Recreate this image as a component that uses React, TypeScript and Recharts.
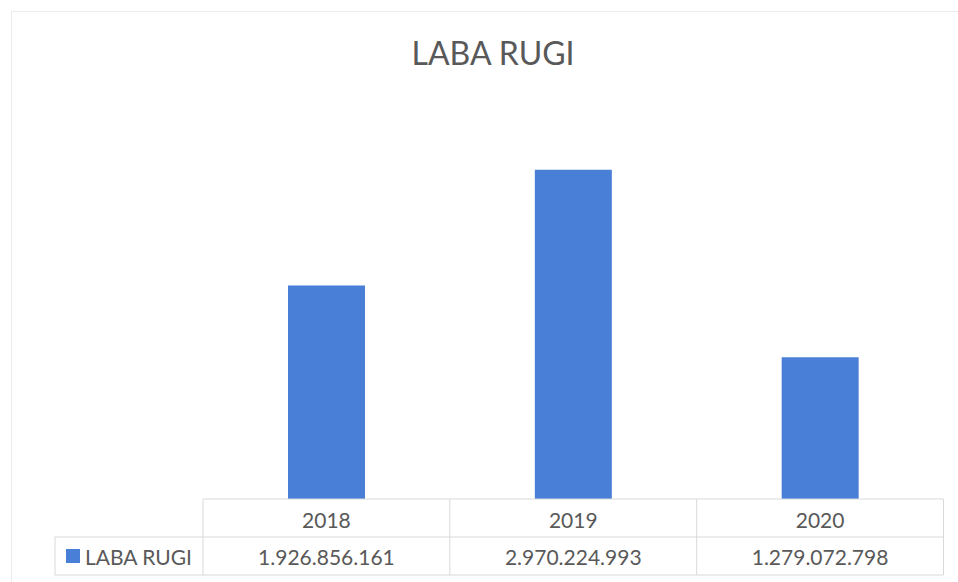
import React from "react";
import { BarChart, Bar, XAxis, YAxis } from "recharts";

const categories = ["2018", "2019", "2020"];
const labaRugi = [1926856161, 2970224993, 1279072798];
const seriesName = "LABA RUGI";
const chartTitle = "LABA RUGI";

const data = categories.map((c, i) => ({ year: c, value: labaRugi[i] }));

const W = 958;
const H = 582;
const PLOT_LEFT = 203;
const PLOT_RIGHT = 943.5;
const PLOT_TOP = 111;
const PLOT_BOTTOM = 499;
const ROW1 = 537;
const ROW2 = 575;
const LEGEND_LEFT = 55;
const FONT = "Lato, 'Open Sans', sans-serif";
const TEXT = "#595959";
const GRID = "#d9d9d9";
const BAR = "#4a7fd8";
const TABLE_FS = 21;

const fmt = (v: number) => String(v).replace(/\B(?=(\d{3})+(?!\d))/g, ".");

const TableTick = (props: any) => {
  const { x, payload, index } = props;
  const cw = (PLOT_RIGHT - PLOT_LEFT) / categories.length;
  const val = labaRugi[index];
  return (
    <g>
      {index === 0 && (
        <g>
          <line x1={x - cw / 2} x2={x - cw / 2} y1={PLOT_BOTTOM} y2={ROW2} stroke={GRID} />
          <line x1={LEGEND_LEFT} x2={PLOT_RIGHT} y1={ROW1} y2={ROW1} stroke={GRID} />
          <line x1={LEGEND_LEFT} x2={PLOT_RIGHT} y1={ROW2} y2={ROW2} stroke={GRID} />
          <line x1={LEGEND_LEFT} x2={LEGEND_LEFT} y1={ROW1} y2={ROW2} stroke={GRID} />
          <rect x={66} y={(ROW1 + ROW2) / 2 - 7} width={14} height={14} fill={BAR} />
          <text
            x={85}
            y={(ROW1 + ROW2) / 2}
            dominantBaseline="central"
            fill={TEXT}
            fontSize={TABLE_FS}
            fontFamily={FONT}
          >
            {seriesName}
          </text>
        </g>
      )}
      <line x1={x + cw / 2} x2={x + cw / 2} y1={PLOT_BOTTOM} y2={ROW2} stroke={GRID} />
      <text
        x={x}
        y={(PLOT_BOTTOM + ROW1) / 2 + 1}
        textAnchor="middle"
        dominantBaseline="central"
        fill={TEXT}
        fontSize={TABLE_FS}
        fontFamily={FONT}
      >
        {payload.value}
      </text>
      <text
        x={x}
        y={(ROW1 + ROW2) / 2}
        textAnchor="middle"
        dominantBaseline="central"
        fill={TEXT}
        fontSize={TABLE_FS}
        fontFamily={FONT}
      >
        {fmt(val)}
      </text>
    </g>
  );
};

export default function App() {
  return (
    <div style={{ position: "absolute", left: 0, top: 0, width: W, height: H, background: "#fff" }}>
      <div
        style={{
          position: "absolute",
          left: 11,
          top: 11,
          right: 0,
          bottom: 0,
          borderTop: "1px solid #ececec",
          borderLeft: "1px solid #ececec",
        }}
      />
      <div
        style={{
          position: "absolute",
          left: 0,
          width: 986,
          top: 34,
          textAlign: "center",
          fontFamily: FONT,
          fontSize: 32,
          color: TEXT,
          lineHeight: "38px",
        }}
      >
        {chartTitle}
      </div>
      <div style={{ position: "absolute", left: 0, top: 0 }}>
        <BarChart
          width={W}
          height={H}
          data={data}
          margin={{ top: PLOT_TOP, right: W - PLOT_RIGHT, left: PLOT_LEFT, bottom: 0 }}
          barSize={77}
        >
          <YAxis hide domain={[0, 3500000000]} />
          <XAxis
            dataKey="year"
            height={H - PLOT_BOTTOM}
            axisLine={{ stroke: GRID }}
            tickLine={false}
            tick={<TableTick />}
            interval={0}
          />
          <Bar dataKey="value" fill={BAR} isAnimationActive={false} />
        </BarChart>
      </div>
    </div>
  );
}
